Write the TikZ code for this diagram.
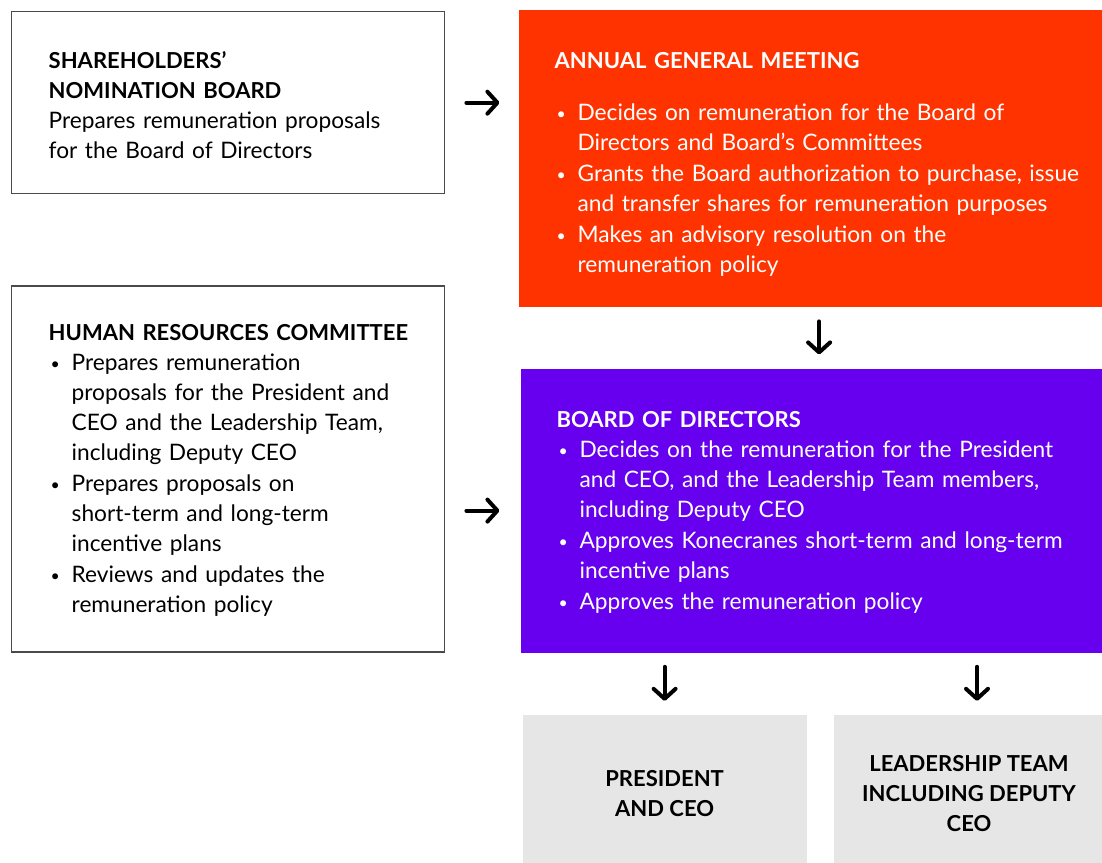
\documentclass[tikz,border=0pt]{standalone}
\usepackage{fontspec}
\setmainfont{Lato}
\usetikzlibrary{positioning, arrows.meta}
\usepackage{xcolor}

\definecolor{agmred}{HTML}{FF3300}
\definecolor{bodpurple}{HTML}{6600EE}
\definecolor{execgray}{HTML}{E6E6E6}
\definecolor{frameline}{HTML}{4A4A4A}

% bullet list line: bullet, then a block of forced lines
\newlength{\bulletgap}
\setlength{\bulletgap}{23pt}
\newcommand{\bpoint}[1]{\par\noindent\makebox[\bulletgap][l]{\hspace{2pt}\raisebox{1pt}{\scalebox{0.7}{\textbullet}}}\begin{tabular}[t]{@{}l@{}}#1\end{tabular}\par}
\newcommand{\bodyfont}{\fontsize{22.7}{30}\selectfont}
\newcommand{\headfont}{\fontsize{22}{30}\selectfont\bfseries}
% pushes a text block down inside its box
\newcommand{\toppad}[1]{\rule{0pt}{#1}}

\begin{document}
\begin{tikzpicture}[
    x=1pt, y=1pt,
    whitebox/.style={draw=frameline, line width=1.4pt, fill=white, rectangle, anchor=north west, inner xsep=37pt, text width=359pt, align=left, font=\bodyfont},
    agmbox/.style={fill=agmred, text=white, rectangle, anchor=north west, inner xsep=36pt, text width=513pt, minimum height=297pt, align=left, font=\bodyfont},
    bodbox/.style={fill=bodpurple, text=white, rectangle, anchor=north west, inner xsep=36pt, text width=511pt, minimum height=284pt, align=left, font=\bodyfont},
    greybox/.style={fill=execgray, rectangle, anchor=north west, minimum height=149pt, align=center, font=\headfont},
    arrow/.style={-{Straight Barb[length=10pt, width=22pt, round]}, line width=4pt, line cap=round}
]

\fill[white] (0,0) rectangle (1102,-862);
\useasboundingbox (0,0) rectangle (1102,-862);

% Nodes
\node[whitebox, minimum height=182pt] (snb) at (11,-11)
    {{\headfont\toppad{22pt}SHAREHOLDERS’\\NOMINATION BOARD}\\
     Prepares remuneration proposals\\
     for the Board of Directors};

\node[agmbox, right=73pt of snb.north east, anchor=north west, yshift=1pt] (agm)
    {{\headfont\toppad{32pt}ANNUAL GENERAL MEETING}\par\vspace{22pt}
     \bpoint{Decides on remuneration for the Board of\\Directors and Board’s Committees}
     \bpoint{Grants the Board authorization to purchase, issue\\and transfer shares for remuneration purposes}
     \bpoint{Makes an advisory resolution on the\\remuneration policy}};

\node[whitebox, minimum height=366pt, below=91pt of snb.south west, anchor=north west] (hrc)
    {{\headfont\toppad{24pt}\mbox{HUMAN RESOURCES COMMITTEE}}
     \bpoint{Prepares remuneration\\proposals for the President and\\CEO and the Leadership Team,\\including Deputy CEO}
     \bpoint{Prepares proposals on\\short-term and long-term\\incentive plans}
     \bpoint{Reviews and updates the\\remuneration policy}};

\node[bodbox, below=61pt of agm.south west, anchor=north west, xshift=2pt] (bod)
    {{\headfont\toppad{24pt}BOARD OF DIRECTORS}
     \bpoint{Decides on the remuneration for the President\\and CEO, and the Leadership Team members,\\including Deputy CEO}
     \bpoint{Approves Konecranes short-term and long-term\\incentive plans}
     \bpoint{Approves the remuneration policy}};

\node[greybox, minimum width=284pt, below=62pt of bod.south west, anchor=north west, xshift=2pt] (ceo)
    {\toppad{24pt}PRESIDENT\\AND CEO};
\node[greybox, minimum width=270pt, right=27pt of ceo.north east, anchor=north west] (lt)
    {\toppad{24pt}LEADERSHIP TEAM\\INCLUDING DEPUTY\\CEO};

% Edges
\coordinate (agmdrop) at ([xshift=8pt]agm.south);
\coordinate (ltdrop) at ([xshift=8pt]lt.north);
\draw[arrow, shorten <=21pt, shorten >=19pt] (snb.east) -- (snb.east -| agm.west);
\draw[arrow, shorten <=21pt, shorten >=21pt] (bod.west -| hrc.east) -- (bod.west);
\draw[arrow, shorten <=14pt, shorten >=14pt] (agmdrop) -- (agmdrop |- bod.north);
\draw[arrow, shorten <=14pt, shorten >=14pt] (ceo.north |- bod.south) -- (ceo.north);
\draw[arrow, shorten <=14pt, shorten >=14pt] (ltdrop |- bod.south) -- (ltdrop);

\end{tikzpicture}
\end{document}
